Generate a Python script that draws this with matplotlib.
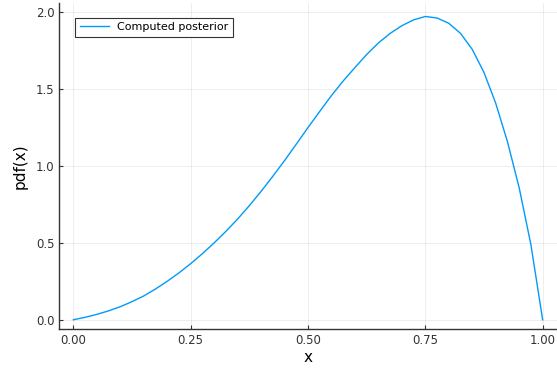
import numpy as np
import matplotlib.pyplot as plt

# values (x step 0.025)
x_vals = [0.0, 0.025, 0.05, 0.075, 0.1, 0.125, 0.15, 0.175, 0.2, 0.225, 0.25,
          0.275, 0.3, 0.325, 0.35, 0.375, 0.4, 0.425, 0.45, 0.475, 0.5,
          0.525, 0.55, 0.575, 0.6, 0.625, 0.65, 0.675, 0.7, 0.725, 0.75,
          0.775, 0.8, 0.825, 0.85, 0.875, 0.9, 0.925, 0.95, 0.975, 1.0]
pdf_vals = [0.0, 0.016, 0.035, 0.058, 0.085, 0.118, 0.155, 0.200, 0.250, 0.305, 0.365,
            0.430, 0.500, 0.575, 0.655, 0.742, 0.835, 0.933, 1.035, 1.142, 1.250,
            1.355, 1.458, 1.553, 1.640, 1.725, 1.800, 1.862, 1.912, 1.950, 1.972,
            1.962, 1.928, 1.862, 1.758, 1.608, 1.408, 1.158, 0.858, 0.488, 0.0]
x_ticks = [0.0, 0.25, 0.5, 0.75, 1.0]
x_ticklabels = ['0.00', '0.25', '0.50', '0.75', '1.00']
y_ticks = [0.0, 0.5, 1.0, 1.5, 2.0]

fig = plt.figure(figsize=(5.57, 3.68), dpi=100)
ax = fig.add_axes([0.1065, 0.106, 0.893, 0.886])

ax.plot(x_vals, pdf_vals, color='#009AFA', lw=1.0, label='Computed posterior')

ax.set_xlim(-0.03, 1.03)
ax.set_ylim(-0.06, 2.06)
ax.set_xticks(x_ticks)
ax.set_xticklabels(x_ticklabels)
ax.set_yticks(y_ticks)
ax.grid(True, color='black', alpha=0.08, lw=0.6)
for s in ['top', 'right']:
    ax.spines[s].set_visible(False)
for s in ['left', 'bottom']:
    ax.spines[s].set_color('#333333')
    ax.spines[s].set_linewidth(1.0)
ax.tick_params(direction='in', length=3, width=0.8, labelsize=8.5,
               colors='#333333', labelcolor='#333333')

ax.set_xlabel('x', fontsize=11, labelpad=2)
ax.set_ylabel('pdf(x)', fontsize=11, labelpad=6)

leg = ax.legend(loc='upper left', bbox_to_anchor=(0.032, 0.954), borderaxespad=0,
                fontsize=8, fancybox=False, framealpha=1, handlelength=2.6)
leg.get_frame().set_edgecolor('#333333')
leg.get_frame().set_linewidth(0.8)

fig.savefig('out.png', dpi=100)
